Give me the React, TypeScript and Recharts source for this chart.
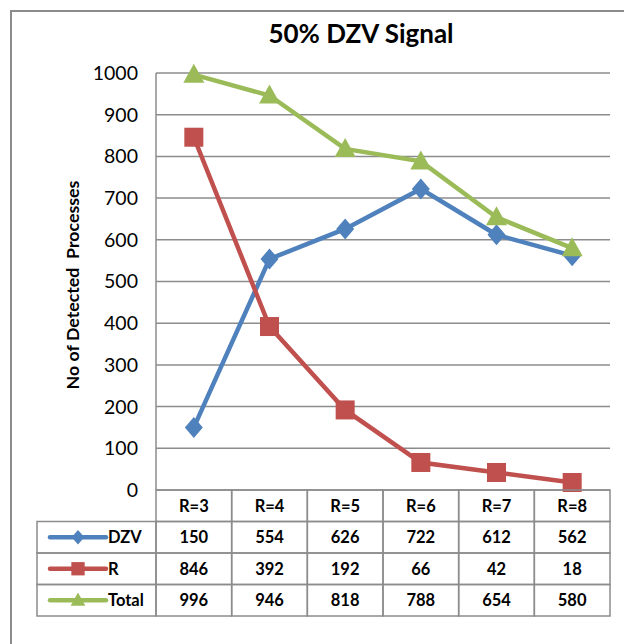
import React from 'react';
import { LineChart, Line, XAxis, YAxis, CartesianGrid } from 'recharts';

const categories = ['R=3', 'R=4', 'R=5', 'R=6', 'R=7', 'R=8'];
const dzvValues = [150, 554, 626, 722, 612, 562];
const rValues = [846, 392, 192, 66, 42, 18];
const totalValues = [996, 946, 818, 788, 654, 580];
const yTicks = [0, 100, 200, 300, 400, 500, 600, 700, 800, 900, 1000];

const seriesList = [
  { key: 'DZV', values: dzvValues, color: '#4F81BD', marker: 'diamond' },
  { key: 'R', values: rValues, color: '#C0504D', marker: 'square' },
  { key: 'Total', values: totalValues, color: '#9BBB59', marker: 'triangle' },
];

const data = categories.map((cat, i) => {
  const row: any = { cat };
  seriesList.forEach((s) => (row[s.key] = s.values[i]));
  return row;
});

// layout
const W = 624;
const H = 644;
const plotLeft = 156;
const plotRight = 610;
const plotTop = 73;
const plotBottom = 490;
const yAxisW = 60;
const xAxisH = 130;
const rowH = 31.5;
const legendLeft = 37;
const gridColor = '#8c8c8c';
const font = 'Lato, "Liberation Sans", sans-serif';

const colW = (plotRight - plotLeft) / categories.length;

function Marker({ cx, cy, kind, color, scale = 1 }: any) {
  if (kind === 'diamond') {
    const w = 9 * scale;
    const h = 10.5 * scale;
    return <polygon points={`${cx},${cy - h} ${cx + w},${cy} ${cx},${cy + h} ${cx - w},${cy}`} fill={color} />;
  }
  if (kind === 'square') {
    const s = 9.5 * scale;
    return <rect x={cx - s} y={cy - s} width={s * 2} height={s * 2} fill={color} />;
  }
  const w = 10.5 * scale;
  return <polygon points={`${cx},${cy - 11 * scale} ${cx + w},${cy + 8 * scale} ${cx - w},${cy + 8 * scale}`} fill={color} />;
}

const cellText = {
  fontFamily: font,
  fontSize: 16.5,
  fontWeight: 700,
  fill: '#000',
};

// every x tick draws its own column of the data table
function TableTick(props: any) {
  const { x, y, index } = props;
  const left = x - colW / 2;
  return (
    <g>
      <rect x={left} y={y} width={colW} height={rowH} fill="none" stroke={gridColor} strokeWidth={1.5} />
      <text x={x} y={y + rowH / 2 + 6} textAnchor="middle" {...cellText}>
        {categories[index]}
      </text>
      {seriesList.map((s, r) => (
        <g key={s.key}>
          <rect x={left} y={y + rowH * (r + 1)} width={colW} height={rowH} fill="none" stroke={gridColor} strokeWidth={1.5} />
          <text x={x} y={y + rowH * (r + 1.5) + 6} textAnchor="middle" {...cellText}>
            {s.values[index]}
          </text>
        </g>
      ))}
      {index === 0 &&
        seriesList.map((s, r) => {
          const cy = y + rowH * (r + 1.5);
          return (
            <g key={'leg' + s.key}>
              <rect x={legendLeft} y={y + rowH * (r + 1)} width={left - legendLeft} height={rowH} fill="none" stroke={gridColor} strokeWidth={1.5} />
              <line x1={legendLeft + 13} x2={legendLeft + 69} y1={cy} y2={cy} stroke={s.color} strokeWidth={4.5} strokeLinecap="round" />
              <Marker cx={legendLeft + 41} cy={cy} kind={s.marker} color={s.color} scale={0.7} />
              <text x={legendLeft + 71} y={cy + 6} {...cellText}>
                {s.key}
              </text>
            </g>
          );
        })}
    </g>
  );
}

export default function App() {
  return (
    <div style={{ position: 'absolute', left: 0, top: 0, width: W, height: H, overflow: 'hidden', background: '#fff' }}>
      <div
        style={{
          position: 'absolute',
          left: 10,
          top: 10,
          width: 800,
          height: 800,
          borderLeft: '2px solid #8c8c8c',
          borderTop: '2px solid #8c8c8c',
        }}
      />
      <div
        style={{
          position: 'absolute',
          left: 0,
          top: 18,
          width: 722,
          textAlign: 'center',
          fontFamily: font,
          fontWeight: 700,
          fontSize: 26,
          lineHeight: '30px',
        }}
      >
        50% DZV Signal
      </div>
      <div
        style={{
          position: 'absolute',
          left: 72 - 150,
          top: 285 - 11,
          width: 300,
          height: 22,
          lineHeight: '22px',
          textAlign: 'center',
          transform: 'rotate(-90deg)',
          fontFamily: font,
          fontWeight: 700,
          fontSize: 17.8,
          whiteSpace: 'pre',
        }}
      >
        {'No of Detected  Processes'}
      </div>
      <div style={{ position: 'absolute', left: 0, top: 0 }}>
        <LineChart
          width={W}
          height={H}
          data={data}
          margin={{
            top: plotTop,
            left: plotLeft - yAxisW,
            right: W - plotRight,
            bottom: H - plotBottom - xAxisH,
          }}
        >
          <CartesianGrid vertical={false} stroke={gridColor} strokeWidth={1.5} />
          <XAxis
            dataKey="cat"
            height={xAxisH}
            padding={{ left: colW / 2, right: colW / 2 }}
            axisLine={false}
            tickLine={false}
            tickSize={0}
            tickMargin={0}
            interval={0}
            tick={<TableTick />}
          />
          <YAxis
            width={yAxisW}
            domain={[0, 1000]}
            ticks={yTicks}
            interval={0}
            axisLine={{ stroke: gridColor, strokeWidth: 1.5 }}
            tickLine={false}
            tickSize={0}
            tickMargin={18}
            tick={{ fill: '#000', fontFamily: font, fontSize: 19.5 }}
          />
          {seriesList.map((s) => (
            <Line
              key={s.key}
              dataKey={s.key}
              type="linear"
              stroke={s.color}
              strokeWidth={4.5}
              isAnimationActive={false}
              dot={(p: any) => <Marker key={s.key + p.index} cx={p.cx} cy={p.cy} kind={s.marker} color={s.color} />}
              activeDot={false}
            />
          ))}
        </LineChart>
      </div>
    </div>
  );
}
